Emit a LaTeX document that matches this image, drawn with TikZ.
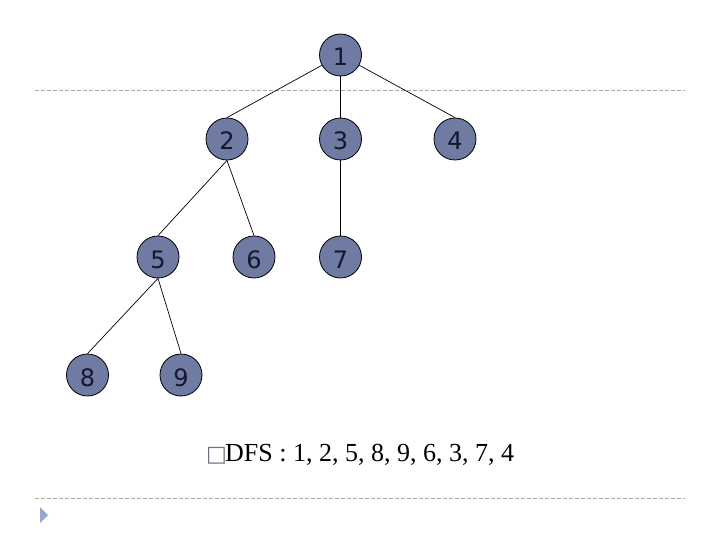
\documentclass[tikz,border=0pt]{standalone}
\usepackage{fontspec}
\setmainfont{Liberation Serif}
\newfontfamily\nodefont{DejaVu Sans}
\begin{document}
\begin{tikzpicture}[x=1pt,y=-1pt,
  vert/.style={circle,draw=black,line width=0.8pt,fill=nodefill,minimum size=42pt,inner sep=0pt,
    text height=22pt,text depth=0pt,
    font=\nodefont\fontsize{24}{24}\selectfont,text=nodetext},
  edge/.style={draw=black,line width=0.7pt},
  sep/.style={draw=sepgray,dash pattern=on 4pt off 2pt,line width=0.7pt}]
\definecolor{nodefill}{HTML}{6F7BA3}
\definecolor{nodetext}{HTML}{16162E}
\definecolor{sepgray}{HTML}{A8A8A8}
\definecolor{tri}{HTML}{98A8C8}
\definecolor{boxgray}{HTML}{707080}
\useasboundingbox (0,0) rectangle (720,540);
\draw[sep] (35,90) -- (685,90);
\draw[sep] (35,498) -- (685,498);
\fill[tri] (40,507) -- (48,515) -- (40,523) -- cycle;
\node[vert] (n1) at (340.5,55) {1};
\node[vert] (n2) at (227,139) {2};
\node[vert] (n3) at (340.5,139) {3};
\node[vert] (n4) at (455,139) {4};
\node[vert] (n5) at (158,257) {5};
\node[vert] (n6) at (254,257) {6};
\node[vert] (n7) at (340.5,257) {7};
\node[vert] (n8) at (87.5,375) {8};
\node[vert] (n9) at (181,375) {9};
\draw[edge] (n1) -- (n2.north);
\draw[edge] (n1) -- (n3.north);
\draw[edge] (n1) -- (n4.north);
\draw[edge] (n2.south) -- (n5.north);
\draw[edge] (n2.south) -- (n6.north);
\draw[edge] (n3.south) -- (n7.north);
\draw[edge] (n5.south) -- (n8.north);
\draw[edge] (n5.south) -- (n9.north);
\node[anchor=base west,inner sep=0pt,font=\nodefont\fontsize{22}{22}\selectfont,text=boxgray] (bul) at (206,461) {□};
\node[anchor=base west,inner sep=0pt,font=\fontsize{26}{26}\selectfont] (dfs) at (225,461) {DFS : 1, 2, 5, 8, 9, 6, 3, 7, 4};
\end{tikzpicture}
\end{document}
